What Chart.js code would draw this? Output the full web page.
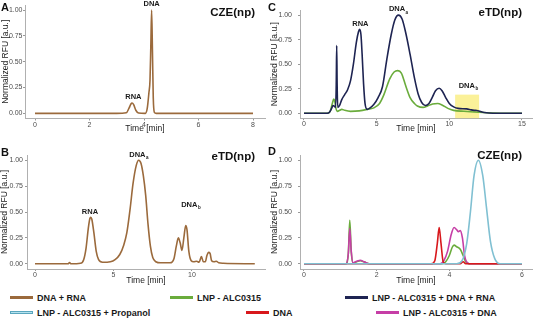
<!DOCTYPE html>
<html>
<head>
<meta charset="utf-8">
<script src="https://cdn.jsdelivr.net/npm/chart.js@4.4.1/dist/chart.umd.min.js"></script>
<style>
  body { margin: 0; background: #fff; font-family: "Liberation Sans", Arial, sans-serif; }
  #wrap { position: relative; width: 534px; height: 321px; overflow: hidden; }
  canvas { position: absolute; }
  .letter { position: absolute; font-weight: bold; font-size: 11px; line-height: 12px; color: #111; }
  .ptitle { position: absolute; font-weight: bold; font-size: 11.5px; line-height: 14px; color: #111; white-space: nowrap; }
  .key { position: absolute; height: 12px; font-weight: bold; font-size: 9px; line-height: 12px; color: #1a1a1a; white-space: nowrap; }
  .key i { display: inline-block; width: 23px; height: 3px; vertical-align: middle; margin-right: 4px; position: relative; top: -1px; box-sizing: border-box; }
</style>
</head>
<body>
<div id="wrap">
  <canvas id="chartA" width="267" height="140" style="left:0;top:0"></canvas>
  <canvas id="chartC" width="267" height="140" style="left:267px;top:0"></canvas>
  <canvas id="chartB" width="267" height="150" style="left:0;top:140px"></canvas>
  <canvas id="chartD" width="267" height="150" style="left:267px;top:140px"></canvas>

  <div class="letter" style="left:1px;top:1px">A</div>
  <div class="letter" style="left:268px;top:1px">C</div>
  <div class="letter" style="left:1px;top:146px">B</div>
  <div class="letter" style="left:268px;top:145px">D</div>

  <div class="ptitle" style="right:279px;top:5px">CZE(np)</div>
  <div class="ptitle" style="right:12px;top:5px">eTD(np)</div>
  <div class="ptitle" style="right:279px;top:149px">eTD(np)</div>
  <div class="ptitle" style="right:12px;top:148px">CZE(np)</div>

  <div class="key" style="left:10px;top:292px"><i style="background:#9b6a3c"></i>DNA + RNA</div>
  <div class="key" style="left:170px;top:292px"><i style="background:#6aac3c"></i>LNP - ALC0315</div>
  <div class="key" style="left:345px;top:292px"><i style="background:#1e2452"></i>LNP - ALC0315 + DNA + RNA</div>
  <div class="key" style="left:10px;top:307px"><i style="background:#b5e2ee;border:1px solid #5aa6be"></i>LNP - ALC0315 + Propanol</div>
  <div class="key" style="left:246px;top:307px"><i style="background:#d8181c"></i>DNA</div>
  <div class="key" style="left:376px;top:307px"><i style="background:#c63ea6"></i>LNP - ALC0315 + DNA</div>
</div>
<script>
// A: CZE(np), DNA + RNA
const aTime   = [0, 3.0, 3.35, 3.45, 3.52, 3.56, 3.62, 3.7, 3.8, 4.05, 4.12, 4.18, 4.22, 4.25, 4.28, 4.31, 4.34, 4.38, 4.45, 6, 8];
const aDnaRna = [0, 0, 0.005, 0.05, 0.09, 0.10, 0.085, 0.03, 0.003, 0, 0.05, 0.2, 0.32, 0.65, 1.0, 0.6, 0.15, 0.01, 0, 0, 0];

// B: eTD(np), DNA + RNA
const bTime   = [0, 2.1, 2.2, 2.3, 2.9, 3.1, 3.25, 3.4, 3.5, 3.55, 3.62, 3.75, 3.9, 4.05, 4.3, 4.8, 5.1, 5.4, 5.65, 5.85, 6.05, 6.25, 6.45, 6.6, 6.75, 6.9, 7.05, 7.2, 7.35, 7.5, 7.7, 8.0, 8.6, 8.85, 9.0, 9.13, 9.25, 9.36, 9.48, 9.6, 9.68, 9.8, 9.95, 10.1, 10.3, 10.45, 10.6, 10.72, 10.85, 10.95, 11.05, 11.15, 11.25, 11.4, 11.55, 11.7, 12, 14];
const bDnaRna = [0, 0, 0.012, 0, 0.005, 0.04, 0.15, 0.35, 0.44, 0.45, 0.43, 0.3, 0.12, 0.04, 0.015, 0.02, 0.04, 0.09, 0.18, 0.3, 0.52, 0.78, 0.95, 1.0, 0.97, 0.85, 0.66, 0.38, 0.17, 0.06, 0.02, 0.01, 0.01, 0.05, 0.17, 0.25, 0.2, 0.13, 0.25, 0.37, 0.33, 0.12, 0.03, 0.02, 0.025, 0.015, 0.07, 0.02, 0.02, 0.08, 0.11, 0.1, 0.03, 0.02, 0.025, 0.01, 0.005, 0];

// C: eTD(np), LNP - ALC0315 + DNA + RNA and LNP - ALC0315
const cNavyTime = [0, 1.6, 1.75, 1.9, 2.0, 2.1, 2.17, 2.22, 2.25, 2.28, 2.32, 2.45, 2.6, 2.8, 3.0, 3.2, 3.4, 3.6, 3.75, 3.83, 3.92, 4.0, 4.1, 4.2, 4.35, 4.5, 4.8, 5.1, 5.4, 5.7, 6.0, 6.25, 6.5, 6.75, 7.0, 7.3, 7.6, 7.85, 8.1, 8.35, 8.6, 8.85, 9.05, 9.3, 9.5, 9.75, 10.0, 10.3, 10.6, 11.2, 11.5, 11.7, 11.9, 12.1, 12.4, 13, 15];
const cNavy     = [0, 0, 0.01, 0.05, 0.08, 0.07, 0.06, 0.3, 0.69, 0.3, 0.06, 0.08, 0.14, 0.19, 0.24, 0.33, 0.5, 0.72, 0.83, 0.855, 0.8, 0.6, 0.3, 0.1, 0.04, 0.05, 0.09, 0.16, 0.27, 0.55, 0.8, 0.95, 1.0, 0.96, 0.82, 0.6, 0.36, 0.2, 0.11, 0.08, 0.1, 0.17, 0.23, 0.255, 0.23, 0.16, 0.1, 0.065, 0.05, 0.045, 0.035, 0.03, 0.028, 0.02, 0.008, 0, 0];
const cGreenTime = [0, 1.6, 1.8, 1.95, 2.05, 2.12, 2.2, 2.3, 2.45, 2.6, 2.8, 3.2, 3.8, 4.5, 4.8, 5.2, 5.5, 5.9, 6.2, 6.45, 6.7, 7.0, 7.3, 7.6, 7.8, 8.2, 8.5, 8.85, 9.2, 9.5, 9.9, 10.3, 11, 12, 13, 15];
const cGreen     = [0, 0, 0.02, 0.1, 0.145, 0.12, 0.05, 0.02, 0.03, 0.04, 0.03, 0.02, 0.025, 0.045, 0.055, 0.1, 0.19, 0.35, 0.42, 0.435, 0.41, 0.28, 0.16, 0.1, 0.075, 0.06, 0.075, 0.095, 0.1, 0.085, 0.05, 0.03, 0.02, 0.01, 0.003, 0];

// D: CZE(np), four samples
const dPropTime = [0, 4.2, 4.35, 4.48, 4.58, 4.68, 4.8, 4.92, 5.02, 5.13, 5.25, 5.4, 6];
const dPropanol = [0, 0, 0.03, 0.2, 0.5, 0.85, 1.0, 0.85, 0.55, 0.22, 0.05, 0, 0];
const dDnaTime  = [0, 3.5, 3.6, 3.67, 3.72, 3.77, 3.83, 3.9, 4.3, 4.38, 4.45, 6];
const dDna      = [0, 0, 0.03, 0.2, 0.35, 0.2, 0.02, 0, 0, 0.02, 0, 0];
const dMagTime  = [0, 1.15, 1.22, 1.26, 1.3, 1.35, 1.45, 1.55, 1.65, 1.8, 3.75, 3.85, 3.95, 4.05, 4.13, 4.2, 4.25, 4.3, 4.36, 4.42, 4.5, 4.6, 6];
const dLnpDna   = [0, 0, 0.1, 0.34, 0.12, 0.01, 0.025, 0.035, 0.02, 0, 0, 0.03, 0.12, 0.28, 0.35, 0.33, 0.31, 0.32, 0.25, 0.08, 0.01, 0, 0];
const dGreenTime = [0, 1.15, 1.22, 1.26, 1.3, 1.35, 1.45, 1.55, 1.65, 1.8, 3.8, 3.9, 4.0, 4.08, 4.13, 4.2, 4.3, 4.38, 4.45, 4.55, 6];
const dLnp       = [0, 0, 0.1, 0.42, 0.12, 0.01, 0.02, 0.03, 0.02, 0, 0, 0.02, 0.08, 0.16, 0.18, 0.165, 0.14, 0.08, 0.02, 0, 0];

const yTicks = [0, 0.25, 0.5, 0.75, 1];
const aTicks = [0, 2, 4, 6, 8];
const bTicks = [0, 5, 10];
const cTicks = [0, 5, 10, 15];
const dTicks = [0, 2, 4, 6];

// peak annotations, in data units
const aPeaks = [{ text: 'RNA', x: 3.61, y: 0.155 }, { text: 'DNA', x: 4.28, y: 1.057 }];
const bPeaks = [{ text: 'RNA', x: 3.5, y: 0.497 }, { text: 'DNA', sub: 'a', x: 6.52, y: 1.048 }, { text: 'DNA', sub: 'b', x: 9.83, y: 0.567 }];
const cPeaks = [{ text: 'RNA', x: 3.88, y: 0.913 }, { text: 'DNA', sub: 'a', x: 6.4, y: 1.058 }, { text: 'DNA', sub: 'b', x: 11.2, y: 0.28 }];
const cBox = { x0: 10.4, x1: 12.05, y0: -0.05, y1: 0.19 };

const FONT = '"Liberation Sans", Arial, sans-serif';
Chart.defaults.font.family = FONT;

const pts = (xs, ys) => xs.map((x, i) => ({ x: x, y: ys[i] }));
const line = (xs, ys, color) => ({ data: pts(xs, ys), borderColor: color, borderWidth: 1.6, pointRadius: 0, fill: false, cubicInterpolationMode: 'monotone' });

const peakPlugin = {
  id: 'peaks',
  afterDatasetsDraw(chart, args, opts) {
    const { ctx, scales: { x, y } } = chart;
    ctx.save();
    ctx.fillStyle = '#1a1a1a';
    ctx.textBaseline = 'middle';
    ctx.textAlign = 'left';
    (opts.labels || []).forEach(p => {
      const px = x.getPixelForValue(p.x);
      const py = y.getPixelForValue(p.y);
      ctx.font = 'bold 7.5px ' + FONT;
      const w = ctx.measureText(p.text).width;
      ctx.fillText(p.text, px - w / 2, py);
      if (p.sub) {
        ctx.font = 'bold 4.5px ' + FONT;
        ctx.fillText(p.sub, px + w / 2 + 0.5, py + 3);
      }
    });
    ctx.restore();
  }
};

const boxPlugin = {
  id: 'hbox',
  beforeDatasetsDraw(chart, args, opts) {
    if (!opts || opts.x0 === undefined) return;
    const { ctx, scales: { x, y } } = chart;
    const l = x.getPixelForValue(opts.x0), r = x.getPixelForValue(opts.x1);
    const t = y.getPixelForValue(opts.y1), b = y.getPixelForValue(opts.y0);
    ctx.save();
    ctx.fillStyle = 'rgba(247,230,70,0.55)';
    ctx.fillRect(l, t, r - l, b - t);
    ctx.restore();
  }
};

function panel(id, p) {
  return new Chart(document.getElementById(id), {
    type: 'line',
    data: { datasets: p.datasets },
    options: {
      responsive: false,
      animation: false,
      layout: { padding: p.pad },
      plugins: {
        legend: { display: false },
        tooltip: { enabled: false },
        peaks: { labels: p.peaks || [] },
        hbox: p.box || {}
      },
      scales: {
        x: {
          type: 'linear', min: p.xmin, max: p.xmax,
          afterFit: s => { s.height = p.xh; },
          afterBuildTicks: s => { s.ticks = p.xticks.map(v => ({ value: v })); },
          grid: { drawOnChartArea: false, drawTicks: true, tickLength: 2, color: '#999' },
          border: { color: '#b0b0b0' },
          ticks: { padding: 0, color: '#4d4d4d', font: { size: 7 }, maxRotation: 0, callback: v => String(v) },
          title: { display: true, text: 'Time [min]', color: '#222', font: { size: 8.5 }, padding: { top: 0, bottom: p.xtpad } }
        },
        y: {
          type: 'linear', min: -0.05, max: 1.05,
          afterFit: s => { s.width = p.yw; },
          afterBuildTicks: s => { s.ticks = yTicks.map(v => ({ value: v })); },
          grid: { drawOnChartArea: false, drawTicks: true, tickLength: 2, color: '#999' },
          border: { color: '#b0b0b0' },
          ticks: { padding: p.ytickpad, color: '#4d4d4d', font: { size: 7 }, callback: v => v.toFixed(2) },
          title: { display: true, text: 'Normalized RFU [a.u.]', color: '#222', font: { size: 8.5 }, padding: { top: p.ytpad, bottom: 0 } }
        }
      }
    },
    plugins: [peakPlugin, boxPlugin]
  });
}

panel('chartA', {
  datasets: [line(aTime, aDnaRna, '#9b6a3c')],
  pad: { top: 5, right: 2, bottom: 0, left: 0 },
  xmin: -0.367, xmax: 8.44, xticks: aTicks, xh: 21.5, xtpad: 6,
  yw: 25, ytickpad: 0.5, ytpad: 0.5,
  peaks: aPeaks
});

panel('chartC', {
  datasets: [line(cNavyTime, cNavy, '#1e2452'), line(cGreenTime, cGreen, '#6aac3c')],
  pad: { top: 5, right: 2, bottom: 0, left: 0 },
  xmin: -0.275, xmax: 15.69, xticks: cTicks, xh: 21.8, xtpad: 6,
  yw: 33, ytickpad: 6, ytpad: 2.5,
  peaks: cPeaks, box: cBox
});

panel('chartB', {
  datasets: [line(bTime, bDnaRna, '#9b6a3c')],
  pad: { top: 15, right: 2, bottom: 0, left: 0 },
  xmin: -0.51, xmax: 14.65, xticks: bTicks, xh: 21, xtpad: 4,
  yw: 27, ytickpad: 2, ytpad: 0,
  peaks: bPeaks
});

panel('chartD', {
  datasets: [
    line(dPropTime, dPropanol, '#80c0d2'),
    line(dDnaTime, dDna, '#d8181c'),
    line(dMagTime, dLnpDna, '#c63ea6'),
    line(dGreenTime, dLnp, '#6aac3c')
  ],
  pad: { top: 15, right: 2, bottom: 0, left: 0 },
  xmin: -0.11, xmax: 6.275, xticks: dTicks, xh: 21, xtpad: 4,
  yw: 33, ytickpad: 6, ytpad: 2.5,
  peaks: []
});
</script>
</body>
</html>
